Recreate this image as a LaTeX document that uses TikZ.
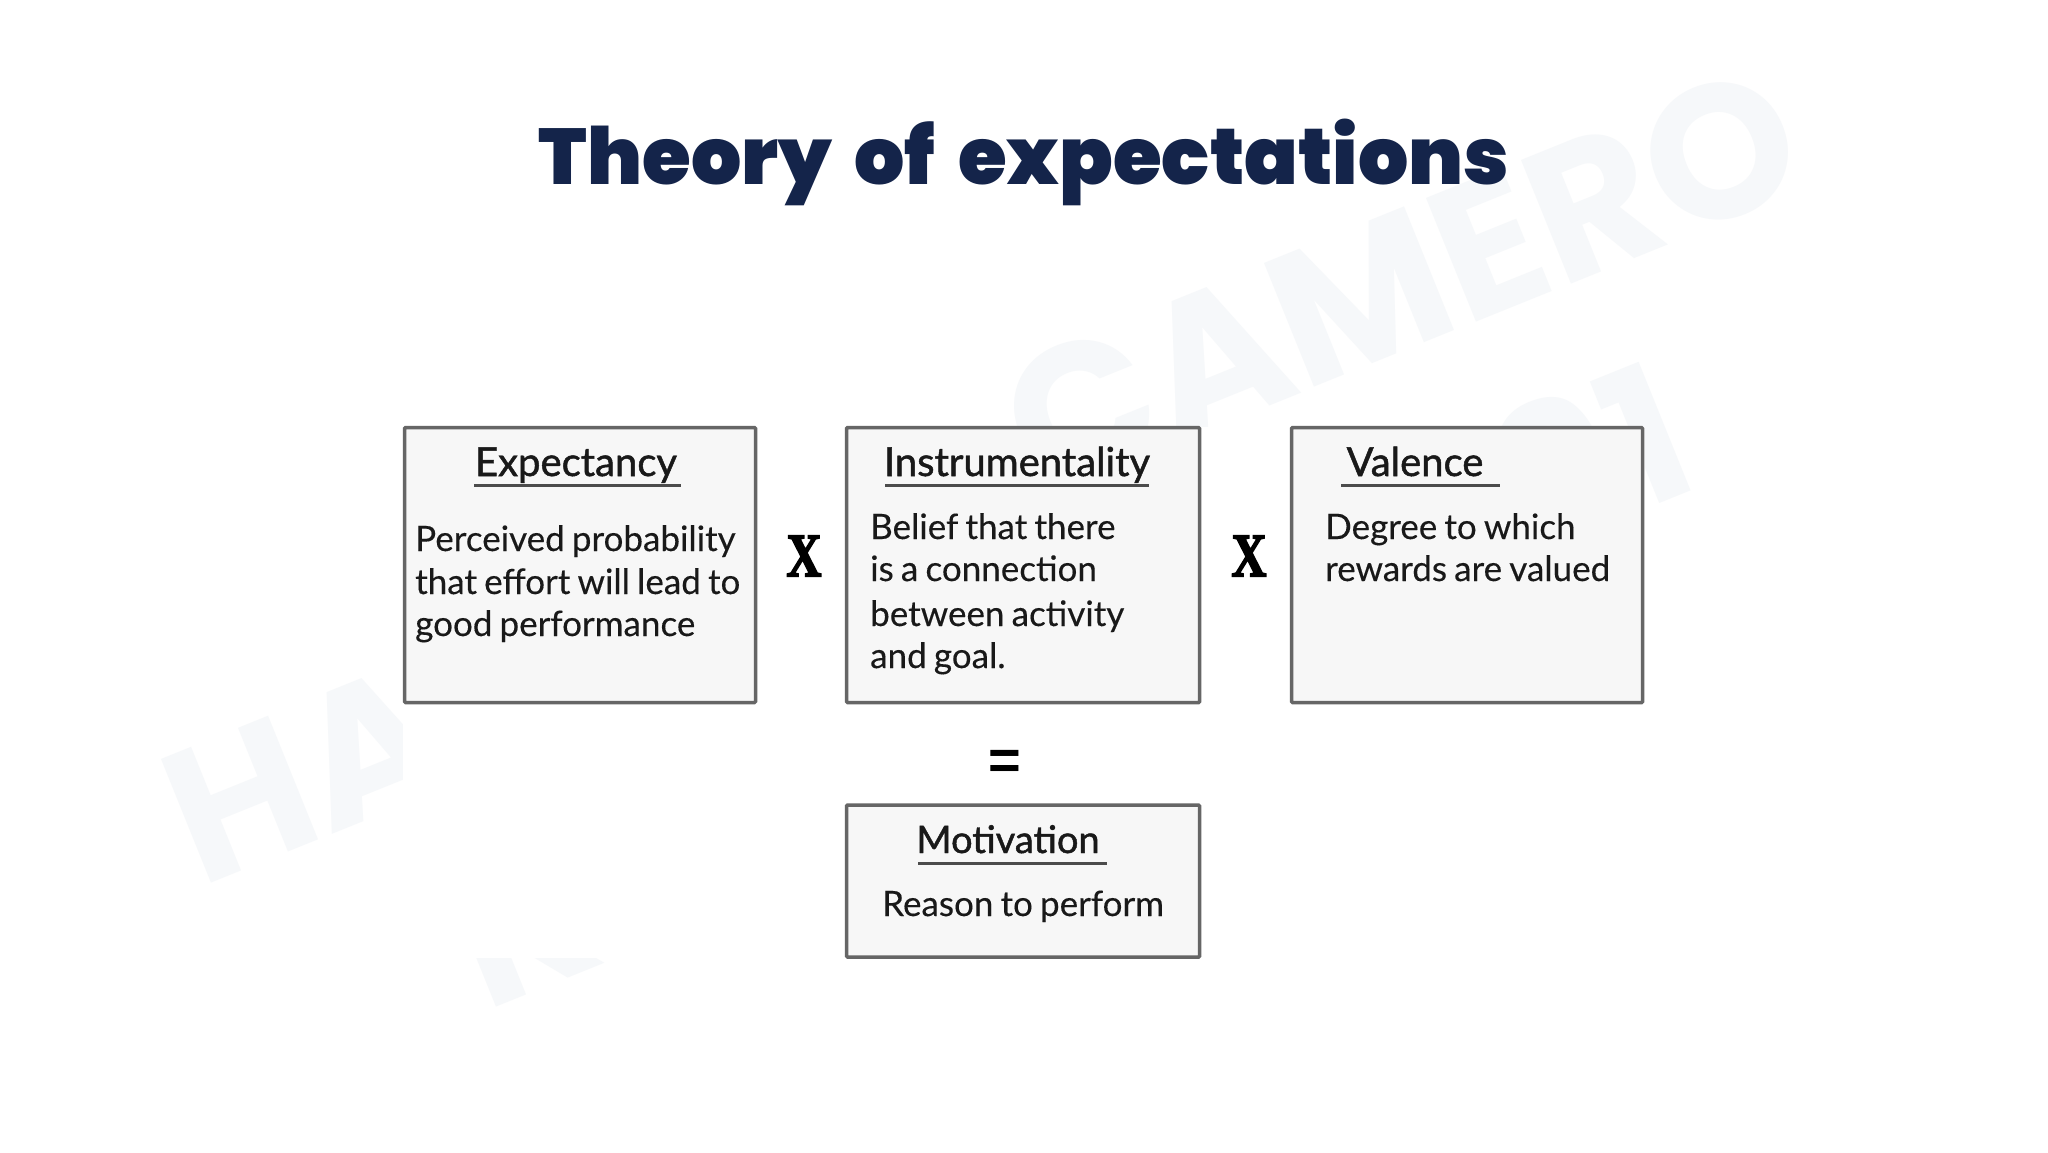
\documentclass[tikz,border=0pt]{standalone}
\usepackage{fontspec}
\setmainfont{Lato}
\newfontfamily\bodyfont{Lato}[FakeBold=0.25,WordSpace=0.8]
\newfontfamily\headfont{Lato}[FakeBold=1.2]
\newfontfamily\titlefont{Poppins}[UprightFont=* Black,WordSpace=1.7]
\newfontfamily\wmfont{Poppins}[UprightFont=* Bold]
\newfontfamily\markfont{Liberation Serif}[UprightFont=* Bold,FakeBold=3]
\newfontfamily\eqfont{Liberation Sans}[UprightFont=* Bold]
\definecolor{navy}{HTML}{14244A}
\definecolor{boxfill}{HTML}{F7F7F7}
\definecolor{boxline}{HTML}{666666}
\definecolor{wm}{HTML}{F6F8FA}
\tikzset{
  box/.style={draw=boxline,fill=boxfill,line width=3.5pt,rectangle,inner sep=0pt,rounded corners=1pt},
  head/.style={font=\headfont\fontsize{40}{40}\selectfont,anchor=base,inner sep=0pt,text=black!90},
  body/.style={font=\bodyfont\fontsize{35}{43}\selectfont,anchor=base west,inner sep=0pt,text=black!90},
  rulel/.style={draw=black!70,line width=3pt},
  opmark/.style={font=\markfont\fontsize{62}{62}\selectfont,inner sep=0pt,xscale=0.78},
  wmark/.style={font=\wmfont\fontsize{190}{190}\selectfont,text=wm,inner sep=0pt,rotate=22}
}
\begin{document}
\begin{tikzpicture}[x=1pt,y=-1pt]
\useasboundingbox[fill=white] (0,0) rectangle (2048,1152);
\node[wmark] (wa) at (1402,280) {CAMERO};
\node[wmark] (wb) at (305,773) {HA};
\node[wmark] (wc) at (1590,455) {91};
\node[wmark] (wd) at (522,925) {K};
\fill[white] (403,427) rectangle (1645,958);
\node[font=\titlefont\fontsize{79}{79}\selectfont,text=navy,inner sep=0pt,anchor=base] (title) at (1024,184) {Theory of expectations};
\node[box,minimum width=351pt,minimum height=275pt] (exp) at (580,565) {};
\node[box,minimum width=353pt,minimum height=275pt] (ins) at (1023,565) {};
\node[box,minimum width=351pt,minimum height=275pt] (val) at (1467,565) {};
\node[box,minimum width=353pt,minimum height=152pt] (mot) at (1023,881) {};
\node[head] (h1) at (576,476) {Expectancy};
\node[head] (h2) at (1017,476) {Instrumentality};
\node[head] (h3) at (1415,476) {Valence};
\node[head,font=\headfont\fontsize{38}{38}\selectfont] (h4) at (1008,853) {Motivation};
\coordinate (u1a) at (474,485); \coordinate (u1b) at (681,485);
\coordinate (u2a) at (885,485); \coordinate (u2b) at (1149,485);
\coordinate (u3a) at (1341,485); \coordinate (u3b) at (1500,485);
\coordinate (u4a) at (918,863); \coordinate (u4b) at (1107,863);
\draw[rulel] (u1a) -- (u1b); \draw[rulel] (u2a) -- (u2b);
\draw[rulel] (u3a) -- (u3b); \draw[rulel] (u4a) -- (u4b);
\node[body] (b11) at (415,551) {Perceived probability};
\node[body] (b12) at (415,594) {that effort will lead to};
\node[body] (b13) at (415,636) {good performance};
\node[body] (b21) at (870,539) {Belief that there};
\node[body] (b22) at (870,581) {is a connection};
\node[body] (b23) at (870,626) {between activity};
\node[body] (b24) at (870,668) {and goal.};
\node[body] (b31) at (1325,539) {Degree to which};
\node[body] (b32) at (1325,581) {rewards are valued};
\node[body] (b41) at (882,916) {Reason to perform};
\node[opmark] (x1) at (804,556) {X};
\node[opmark] (x2) at (1249,556) {X};
\node[font=\eqfont\fontsize{56}{56}\selectfont,inner sep=0pt] (eq) at (1005,765) {=};
\end{tikzpicture}
\end{document}
